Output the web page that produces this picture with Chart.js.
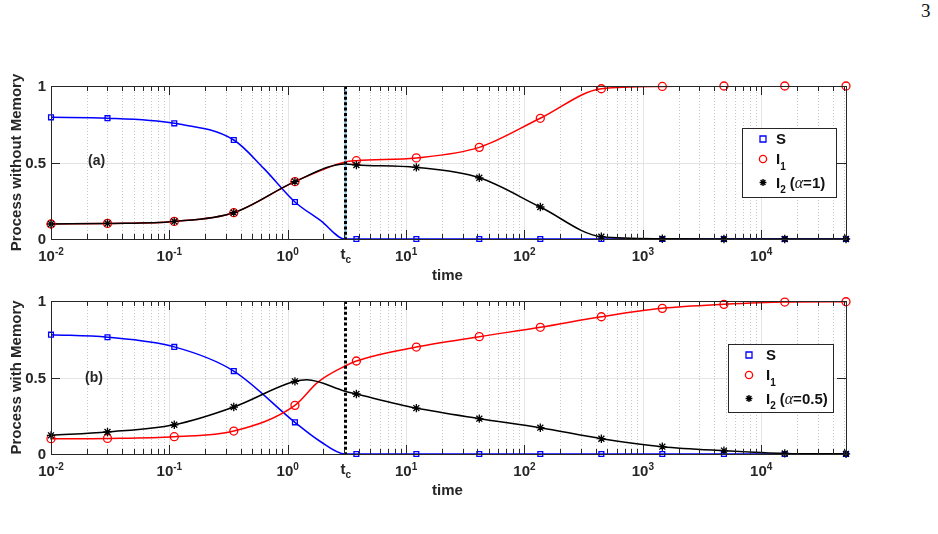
<!DOCTYPE html>
<html>
<head>
<meta charset="utf-8">
<script src="https://cdn.jsdelivr.net/npm/chart.js@4.4.0/dist/chart.umd.min.js"></script>
<style>
  body { margin: 0; background: #fff; width: 938px; height: 534px; overflow: hidden; position: relative; }
  #page { position: absolute; left: 921px; top: 0px; font: 19px "Liberation Serif", serif; color: #111; }
  .panel { position: absolute; left: 0; width: 938px; }
</style>
</head>
<body>
<div id="page">3</div>
<div class="panel" style="top:0;height:280px"><canvas id="chartA" width="938" height="280"></canvas></div>
<div class="panel" style="top:280px;height:254px"><canvas id="chartB" width="938" height="254"></canvas></div>
<script>
// time points where markers are drawn
const markerTimes = [0.01, 0.03, 0.11, 0.35, 1.15, 3.8, 12.2, 41.5, 136, 446, 1460, 4840, 15800, 52000];
const tC = 3.05;

// (a) process without memory
const sA  = [0.795, 0.79, 0.756, 0.647, 0.242, 0, 0, 0, 0, 0, 0, 0, 0, 0];
const i1A = [0.098, 0.102, 0.115, 0.172, 0.375, 0.512, 0.53, 0.599, 0.789, 0.982, 0.997, 1, 1, 1];
const i2A = [0.098, 0.102, 0.115, 0.172, 0.375, 0.484, 0.468, 0.40, 0.209, 0.015, 0.002, 0, 0, 0];
// extra points (between markers)
const sAExtra  = [[0.63, 0.46], [1.9, 0.12], [tC, 0]];
const i1AExtra = [[tC, 0.503]];
const i2AExtra = [[tC, 0.49]];

// (b) process with memory
const sB  = [0.78, 0.763, 0.70, 0.542, 0.207, 0, 0, 0, 0, 0, 0, 0, 0, 0];
const i1B = [0.10, 0.102, 0.113, 0.15, 0.318, 0.608, 0.699, 0.767, 0.828, 0.897, 0.952, 0.978, 0.993, 0.995];
const i2B = [0.122, 0.144, 0.191, 0.307, 0.475, 0.392, 0.30, 0.231, 0.172, 0.10, 0.048, 0.022, 0.004, 0.001];
const sBExtra  = [[1.9, 0.08], [tC, 0]];
const i1BExtra = [[1.8, 0.47], [tC, 0.575]];
const i2BExtra = [[1.45, 0.485], [tC, 0.41]];

// axis ticks
const xMajor = [0.01, 0.1, 1, 10, 100, 1000, 10000];
const xExp = ['-2', '-1', '0', '1', '2', '3', '4'];
const yTicks = [0, 0.5, 1];
const yTickLabels = ['0', '0.5', '1'];

const FONT = '"Liberation Sans", Arial, sans-serif';

const pts = (vals) => vals.map((v, i) => ({ x: markerTimes[i], y: v }));
const curve = (vals, extra) =>
  pts(vals).concat(extra.map(p => ({ x: p[0], y: p[1] }))).sort((a, b) => a.x - b.x);

function line(ctx, x1, y1, x2, y2) {
  ctx.beginPath(); ctx.moveTo(x1, y1); ctx.lineTo(x2, y2); ctx.stroke();
}

function marker(ctx, kind, x, y, r) {
  ctx.beginPath();
  if (kind === 'rect') {
    ctx.strokeStyle = '#0000ff'; ctx.lineWidth = 1.3;
    ctx.rect(x - r, y - r, 2 * r, 2 * r);
  } else if (kind === 'circle') {
    ctx.strokeStyle = '#ff0000'; ctx.lineWidth = 1.3;
    ctx.arc(x, y, r, 0, Math.PI * 2);
  } else {
    ctx.strokeStyle = '#000'; ctx.lineWidth = 1.4;
    for (let k = 0; k < 4; k++) {
      const a = k * Math.PI / 4;
      ctx.moveTo(x - r * Math.cos(a), y - r * Math.sin(a));
      ctx.lineTo(x + r * Math.cos(a), y + r * Math.sin(a));
    }
  }
  ctx.stroke();
}

const decor = {
  id: 'decor',
  beforeDatasetsDraw(chart, args, o) {
    const { ctx, chartArea: a, scales: { x, y } } = chart;
    ctx.save();
    ctx.lineWidth = 1;
    // minor grid (dotted)
    ctx.strokeStyle = '#c8c8c8';
    ctx.setLineDash([1, 2]);
    xMajor.forEach(d => {
      for (let m = 2; m < 10; m++) {
        const v = d * m;
        if (v >= x.max) continue;
        const px = Math.round(x.getPixelForValue(v)) + 0.5;
        line(ctx, px, a.top, px, a.bottom);
      }
    });
    // major grid
    ctx.setLineDash([]);
    ctx.strokeStyle = '#e4e4e4';
    xMajor.forEach(v => {
      const px = Math.round(x.getPixelForValue(v)) + 0.5;
      line(ctx, px, a.top, px, a.bottom);
    });
    yTicks.forEach(v => {
      const py = Math.round(y.getPixelForValue(v)) + 0.5;
      line(ctx, a.left, py, a.right, py);
    });
    ctx.restore();
  },
  afterDatasetsDraw(chart, args, o) {
    const { ctx, chartArea: a, scales: { x, y } } = chart;
    ctx.save();
    // critical time line
    const tx = Math.round(x.getPixelForValue(tC)) + 0.5;
    if (o.tcUnderlay) {
      ctx.strokeStyle = '#7fc4e8'; ctx.lineWidth = 2;
      line(ctx, tx, a.top, tx, a.bottom);
    }
    ctx.strokeStyle = '#000'; ctx.lineWidth = 3; ctx.setLineDash([3, 2.4]);
    line(ctx, tx, a.top, tx, a.bottom);
    ctx.setLineDash([]);

    // box and ticks
    ctx.strokeStyle = '#262626'; ctx.lineWidth = 1;
    ctx.strokeRect(Math.round(a.left) + 0.5, Math.round(a.top) + 0.5,
      Math.round(a.right - a.left), Math.round(a.bottom - a.top));
    xMajor.forEach(d => {
      for (let m = 1; m < 10; m++) {
        const v = d * m;
        if (v >= x.max) continue;
        const len = m === 1 ? 9 : 5;
        const px = Math.round(x.getPixelForValue(v)) + 0.5;
        line(ctx, px, a.bottom, px, a.bottom - len);
        line(ctx, px, a.top, px, a.top + len);
      }
    });
    yTicks.forEach(v => {
      const py = Math.round(y.getPixelForValue(v)) + 0.5;
      line(ctx, a.left, py, a.left + 9, py);
      line(ctx, a.right, py, a.right - 9, py);
    });

    // tick labels
    ctx.fillStyle = '#262626';
    ctx.textBaseline = 'alphabetic';
    xMajor.forEach((v, i) => {
      const cx = x.getPixelForValue(v);
      ctx.font = 'bold 15px ' + FONT;
      const w1 = ctx.measureText('10').width;
      ctx.font = 'bold 10px ' + FONT;
      const w2 = ctx.measureText(xExp[i]).width;
      const x0 = cx - (w1 + w2) / 2;
      ctx.textAlign = 'left';
      ctx.font = 'bold 15px ' + FONT;
      ctx.fillText('10', x0, a.bottom + 22);
      ctx.font = 'bold 10px ' + FONT;
      ctx.fillText(xExp[i], x0 + w1, a.bottom + 16);
    });
    // t_c label
    ctx.font = 'bold 15px ' + FONT;
    const wt = ctx.measureText('t').width;
    ctx.fillText('t', tx - 5, a.bottom + 20);
    ctx.font = 'bold 10px ' + FONT;
    ctx.fillText('c', tx - 5 + wt, a.bottom + 24);

    ctx.font = 'bold 15px ' + FONT;
    ctx.textAlign = 'right'; ctx.textBaseline = 'middle';
    yTicks.forEach((v, i) => ctx.fillText(yTickLabels[i], a.left - 5, y.getPixelForValue(v) + 1));

    // axis titles
    ctx.textAlign = 'center';
    ctx.fillText('time', (a.left + a.right) / 2 - 1, a.bottom + 37);
    ctx.save();
    ctx.translate(17, (a.top + a.bottom) / 2);
    ctx.rotate(-Math.PI / 2);
    ctx.fillText(o.yTitle, 0, 0);
    ctx.restore();

    // panel label
    ctx.font = 'bold 14px ' + FONT;
    ctx.textAlign = 'left';
    ctx.fillText(o.panel, o.panelPos[0], o.panelPos[1]);

    // legend
    const L = o.legend;
    const bx = a.left + L.x, by = a.top + L.y;
    ctx.fillStyle = '#fff';
    ctx.fillRect(bx, by, L.w, L.h);
    ctx.strokeStyle = '#262626'; ctx.lineWidth = 1;
    ctx.strokeRect(Math.round(bx) + 0.5, Math.round(by) + 0.5, L.w, L.h);
    const rows = [11, 31, 54.5];
    const mx = bx + 21, tx0 = bx + L.textX;
    marker(ctx, 'rect', mx, by + rows[0], 3);
    marker(ctx, 'circle', mx, by + rows[1], 3.6);
    marker(ctx, 'star', mx, by + rows[2], 3.4);
    ctx.fillStyle = '#111';
    ctx.textBaseline = 'middle';
    ctx.font = 'bold 15px ' + FONT;
    ctx.fillText('S', tx0, by + rows[0] + 1);
    ctx.fillText('I', tx0, by + rows[1] + 1);
    const wi = ctx.measureText('I').width;
    ctx.fillText('I', tx0, by + rows[2] + 1);
    ctx.font = 'bold 10px ' + FONT;
    ctx.fillText('1', tx0 + wi, by + rows[1] + 8);
    ctx.fillText('2', tx0 + wi, by + rows[2] + 8);
    let cx = tx0 + wi + ctx.measureText('2').width + 4;
    ctx.font = 'bold 15px ' + FONT;
    ctx.fillText('(', cx, by + rows[2] + 1);
    cx += ctx.measureText('(').width;
    ctx.font = 'italic 16px "Liberation Serif", serif';
    ctx.fillText('\u03b1', cx, by + rows[2] + 1);
    cx += ctx.measureText('\u03b1').width;
    ctx.font = 'bold 15px ' + FONT;
    ctx.fillText('=' + o.alpha + ')', cx, by + rows[2] + 1);
    ctx.restore();
  }
};

function makeChart(id, s, i1, i2, sEx, i1Ex, i2Ex, pad, opts) {
  const lineDs = (data, color, order) => ({
    data, showLine: true, borderColor: color, borderWidth: 1.5, pointRadius: 0,
    cubicInterpolationMode: 'monotone', order
  });
  const markDs = (data, color, style, r, order) => ({
    data, showLine: false, pointStyle: style, pointRadius: r, pointBorderColor: color,
    pointBackgroundColor: 'rgba(0,0,0,0)', pointBorderWidth: 1.3, clip: false, order
  });
  return new Chart(document.getElementById(id), {
    type: 'scatter',
    data: {
      datasets: [
        markDs(pts(i2), '#000000', 'star', 4.2, 0),
        markDs(pts(i1), '#ff0000', 'circle', 4, 1),
        markDs(pts(s), '#0000ff', 'rect', 3.4, 2),
        lineDs(curve(i2, i2Ex), '#000000', 3),
        lineDs(curve(i1, i1Ex), '#ff0000', 4),
        lineDs(curve(s, sEx), '#0000ff', 5)
      ]
    },
    options: {
      responsive: false,
      animation: false,
      events: [],
      layout: { padding: pad },
      plugins: { legend: { display: false }, tooltip: { enabled: false }, decor: opts },
      scales: {
        x: { type: 'logarithmic', min: markerTimes[0], max: markerTimes[markerTimes.length - 1], display: false },
        y: { type: 'linear', min: 0, max: 1, display: false }
      }
    },
    plugins: [decor]
  });
}

makeChart('chartA', sA, i1A, i2A, sAExtra, i1AExtra, i2AExtra,
  { left: 51, right: 92, top: 86, bottom: 41 },
  { yTitle: 'Process without Memory', panel: '(a)', panelPos: [88, 161], alpha: '1', tcUnderlay: true,
    legend: { x: 691, y: 42, w: 94, h: 69, textX: 34 } });

makeChart('chartB', sB, i1B, i2B, sBExtra, i1BExtra, i2BExtra,
  { left: 51, right: 92, top: 21, bottom: 80 },
  { yTitle: 'Process with Memory', panel: '(b)', panelPos: [85, 98], alpha: '0.5', tcUnderlay: false,
    legend: { x: 677, y: 43, w: 105, h: 68, textX: 38 } });
</script>
</body>
</html>
